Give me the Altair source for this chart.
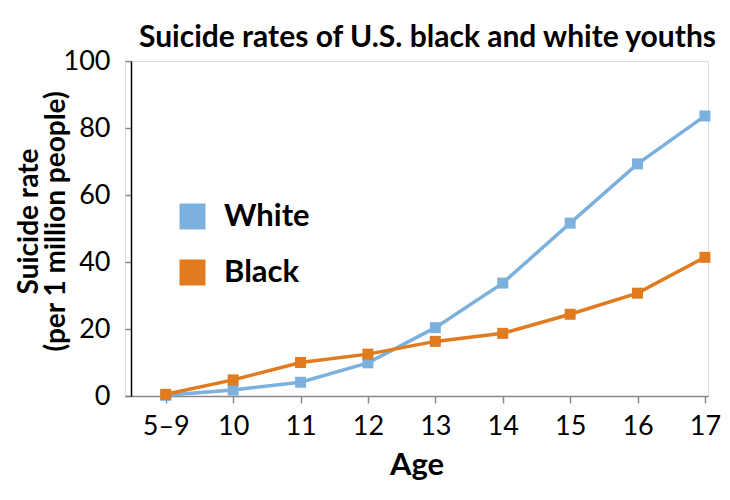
import altair as alt
import pandas as pd

ages = ["5–9", "10", "11", "12", "13", "14", "15", "16", "17"]
white_rates = [0.2, 1.8, 4.1, 9.9, 20.4, 33.7, 51.6, 69.3, 83.6]
black_rates = [0.5, 4.8, 10.0, 12.5, 16.3, 18.7, 24.4, 30.7, 41.4]
groups = ["White", "Black"]
colors = ["#7cb1de", "#e07b20"]

data = pd.DataFrame({
    "Age": ages * 2,
    "Rate": white_rates + black_rates,
    "Group": ["White"] * len(ages) + ["Black"] * len(ages),
})

FONT = "Lato"

x_enc = alt.X("Age:O", sort=ages,
              scale=alt.Scale(type="point", padding=0.325, align=0.93),
              axis=alt.Axis(title="Age", labelAngle=0, labelFontSize=27,
                            labelPadding=10, tickSize=7, tickColor="#888888",
                            tickWidth=1.5, domainColor="#888888", domainWidth=1.5,
                            titleFontSize=31, titleFontWeight="bold",
                            titleY=78, titleBaseline="alphabetic"))
y_enc = alt.Y("Rate:Q", scale=alt.Scale(domain=[0, 100]),
              axis=alt.Axis(title=["Suicide rate", "(per 1 million people)"],
                            values=[0, 20, 40, 60, 80, 100], grid=False, offset=-6,
                            labelFontSize=27, labelPadding=15, tickSize=6,
                            tickColor="#888888", tickWidth=1.5,
                            domainColor="#000000", domainWidth=1.5,
                            titleFontSize=28, titleFontWeight="bold",
                            titleAngle=-90, titleX=-94, titleY=160,
                            titleAlign="center", titleBaseline="alphabetic",
                            titleLineHeight=27))
color_enc = alt.Color("Group:N", scale=alt.Scale(domain=groups, range=colors),
                      legend=alt.Legend(title=None, orient="none", legendX=52, legendY=140,
                                        symbolType="square", symbolSize=676,
                                        symbolStrokeWidth=0, symbolOpacity=1,
                                        labelFontSize=31, labelFontWeight="bold",
                                        labelOffset=16, rowPadding=24, padding=0,
                                        labelColor="#000000"))

lines = alt.Chart(data).mark_line(strokeWidth=3.5).encode(
    x=x_enc, y=y_enc, color=color_enc, detail="Group:N"
)
points = alt.Chart(data).mark_point(shape="square", size=121, filled=True, opacity=1).encode(
    x=x_enc, y=y_enc, color=color_enc
)

chart = alt.layer(lines, points).properties(
    width=583,
    height=335,
    title=alt.TitleParams("Suicide rates of U.S. black and white youths",
                          fontSize=30, fontWeight="bold", font=FONT,
                          anchor="middle", offset=8, dx=11, dy=14, color="#000000"),
    padding={"left": 117, "top": 53, "right": 14, "bottom": 96},
    autosize=alt.AutoSizeParams(type="none"),
).configure_view(
    stroke=None
).configure(
    font=FONT
).configure_axis(
    labelFont=FONT, titleFont=FONT, labelColor="#000000", titleColor="#000000"
).configure_legend(
    labelFont=FONT
)

chart.save("out.html", embed_options={"renderer": "svg", "actions": False})
